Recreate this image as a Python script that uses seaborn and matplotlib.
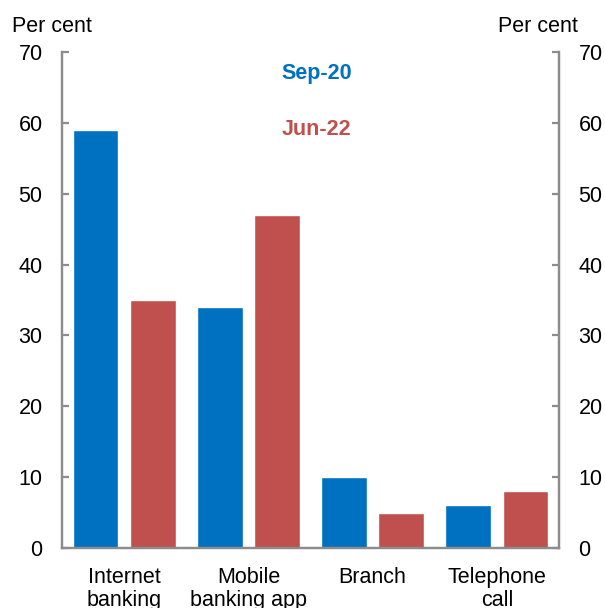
import pandas as pd
import matplotlib.pyplot as plt
import seaborn as sns

# Preferred banking channel, share of respondents
channels = ["Internet\nbanking", "Mobile\nbanking app", "Branch", "Telephone\ncall"]
sep20 = [59, 34, 10, 6]
jun22 = [35, 47, 5, 8]
series = ["Sep-20", "Jun-22"]
colours = {"Sep-20": "#0070C0", "Jun-22": "#C0504D"}

df = pd.DataFrame({
    "channel": channels * 2,
    "value": sep20 + jun22,
    "period": [series[0]] * len(channels) + [series[1]] * len(channels),
})

sns.set_style("white")
plt.rcParams['font.family'] = ['Liberation Sans', 'DejaVu Sans']
plt.rcParams['text.color'] = 'black'
fs = 15.5
grey = "#8C8C8C"

fig = plt.figure(figsize=(6.05, 6.08), dpi=100)
ax = fig.add_axes([0.1025, 0.0987, 0.8215, 0.8158])

sns.barplot(data=df, x="channel", y="value", hue="period", order=channels,
            hue_order=series, palette=colours, width=0.92, gap=0.2,
            saturation=1, legend=False, ax=ax)

ax.set_xlim(-0.5, 3.5)
ax.set_ylim(0, 70)
ax.set_yticks(range(0, 71, 10))
ax.set_xlabel("")
ax.set_ylabel("")

ax2 = ax.twinx()
ax2.set_ylim(0, 70)
ax2.set_yticks(range(0, 71, 10))

for a in (ax, ax2):
    for side in ("left", "right", "bottom"):
        a.spines[side].set_color(grey)
        a.spines[side].set_linewidth(1.6)
    a.spines["top"].set_visible(False)
    a.tick_params(axis="y", direction="in", length=5, width=1.6, color=grey,
                  labelsize=fs, labelcolor="black", pad=14)

# category labels centred, separator ticks between groups
ax.tick_params(axis="x", which="major", length=0, labelsize=fs,
               labelcolor="black", pad=14)
ax.set_xticks([0.5, 1.5, 2.5], minor=True)
ax.tick_params(axis="x", which="minor", direction="in", length=5, width=1.6, color=grey)
for lbl in ax.get_xticklabels():
    lbl.set_linespacing(1.1)

# series labels
ax.text(1.55, 67.0, "Sep-20", color=colours["Sep-20"], fontsize=fs,
        fontweight="bold", ha="center", va="center")
ax.text(1.55, 59.0, "Jun-22", color=colours["Jun-22"], fontsize=fs,
        fontweight="bold", ha="center", va="center")

fig.text(12 / 605, 1 - 27 / 608, "Per cent", fontsize=fs, ha="left", va="center")
fig.text(578 / 605, 1 - 27 / 608, "Per cent", fontsize=fs, ha="right", va="center")

fig.savefig("out.png", dpi=100)
